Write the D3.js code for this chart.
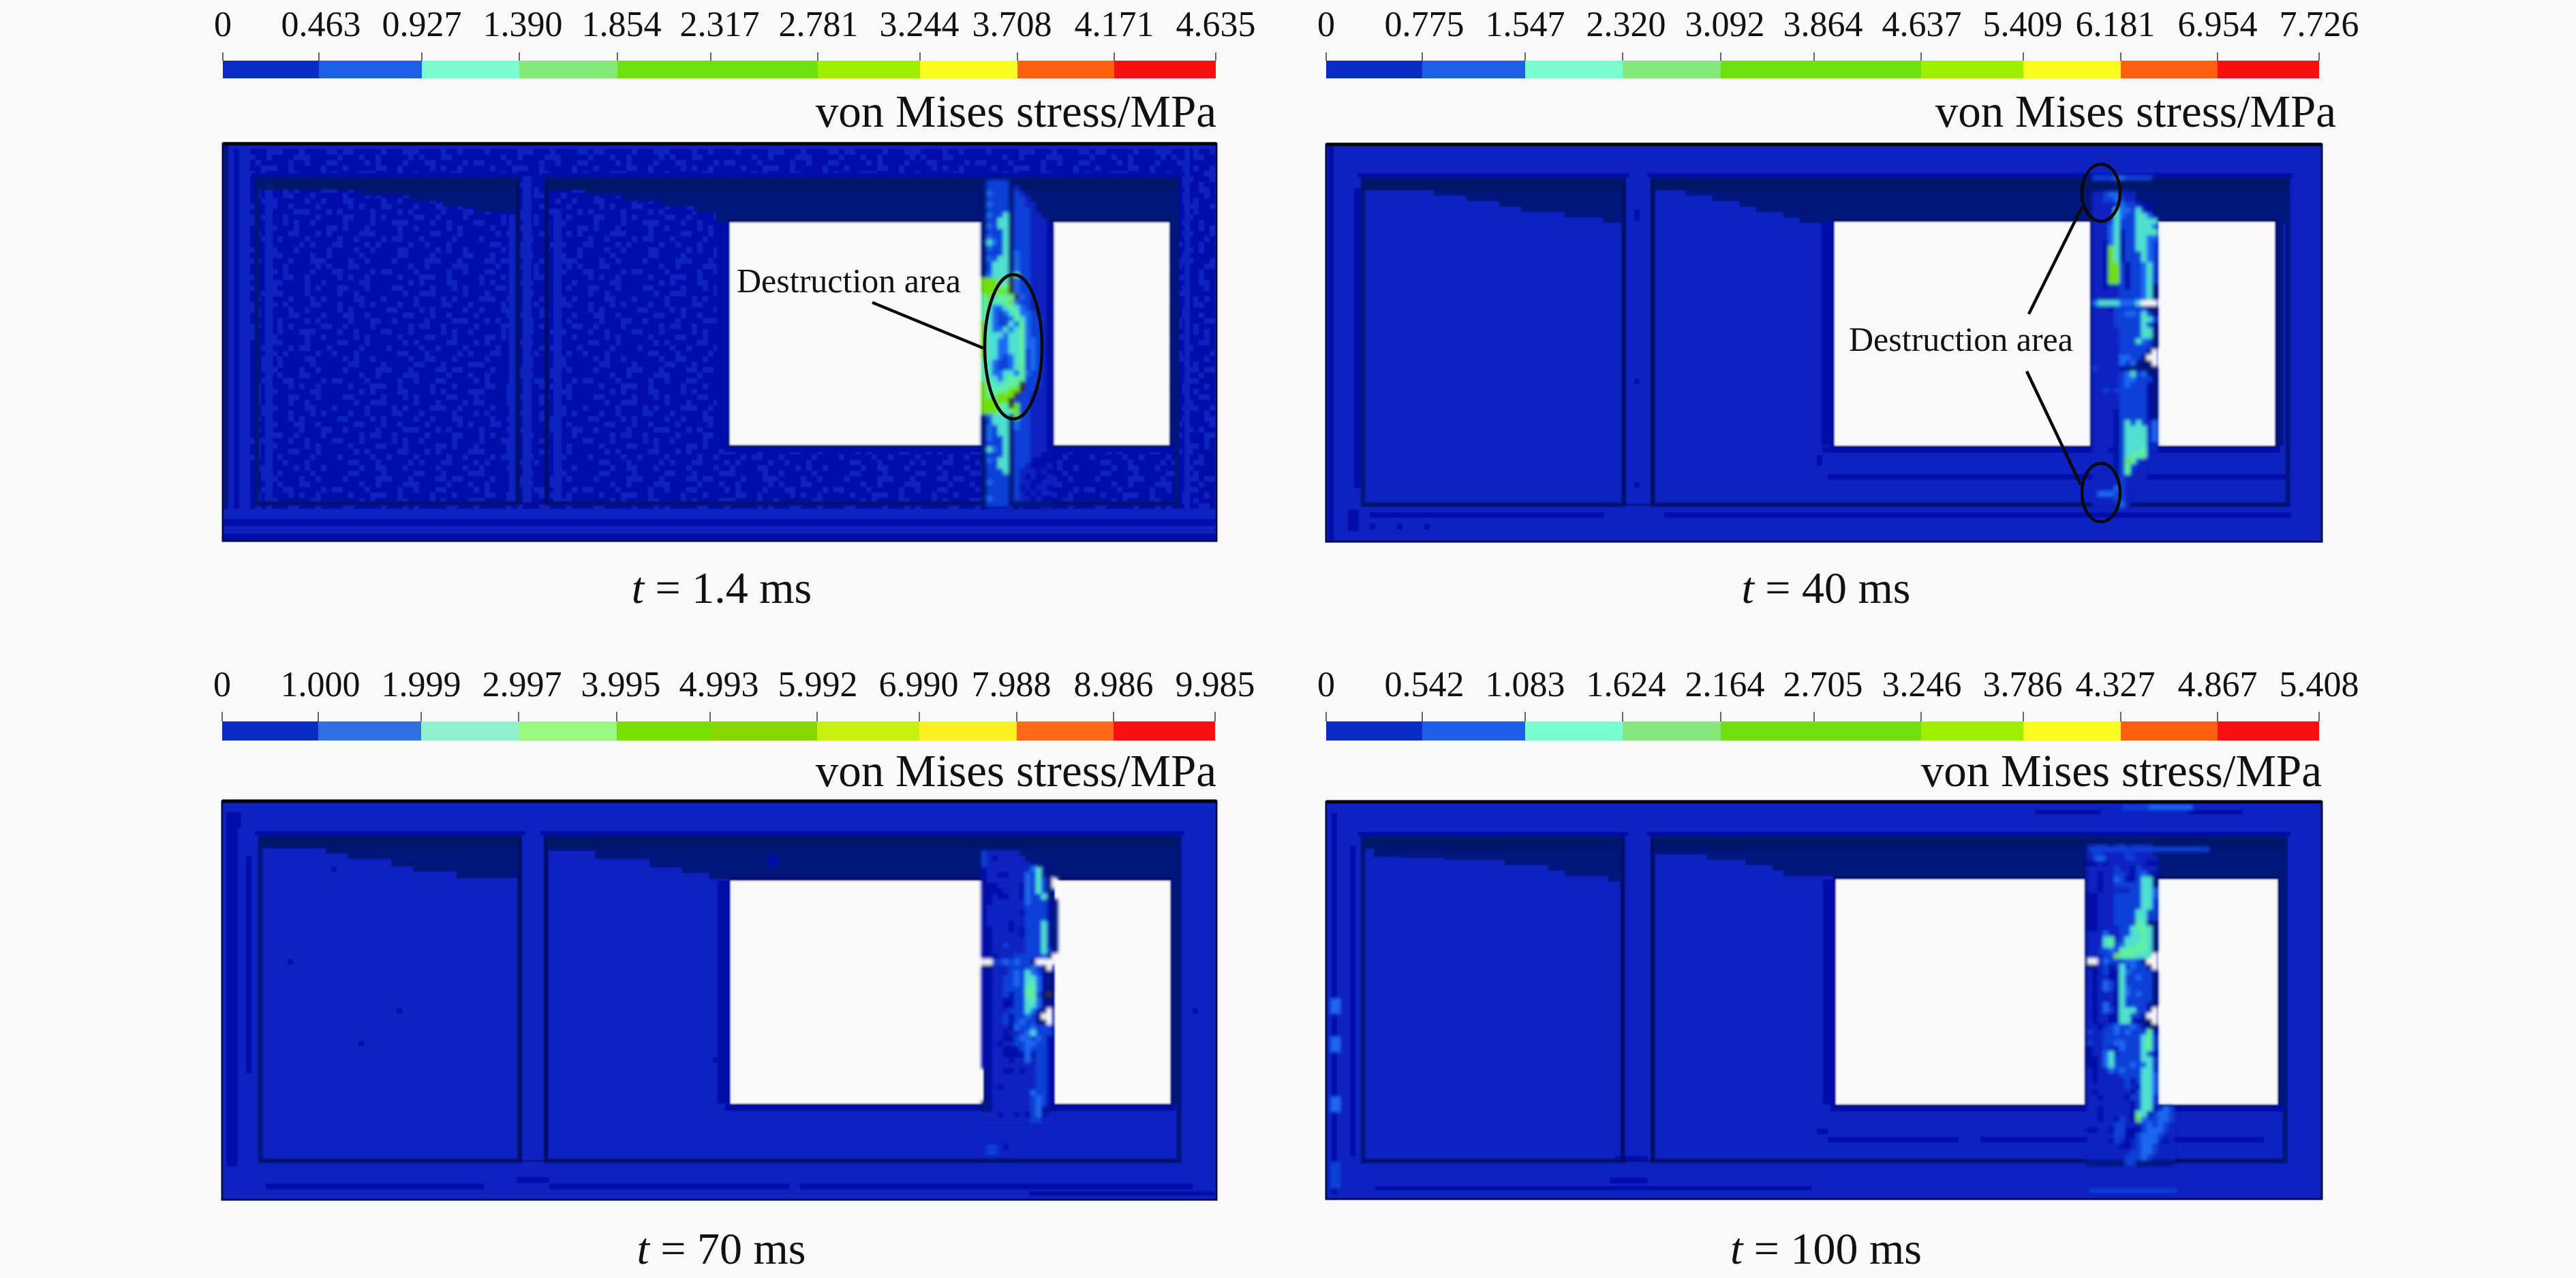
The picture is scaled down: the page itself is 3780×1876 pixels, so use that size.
<!DOCTYPE html>
<html><head><meta charset="utf-8">
<script src="https://cdn.jsdelivr.net/npm/d3@7"></script>
<style>html,body{margin:0;padding:0;background:#f9f9f9}svg{display:block}text{font-family:"Liberation Serif",serif;fill:#111}</style>
</head><body><svg id="c" width="3780" height="1876"></svg>
<script>
// ---------- colour-bar data ----------
const ticksA = ["0","0.463","0.927","1.390","1.854","2.317","2.781","3.244","3.708","4.171","4.635"];
const ticksB = ["0","0.775","1.547","2.320","3.092","3.864","4.637","5.409","6.181","6.954","7.726"];
const ticksC = ["0","1.000","1.999","2.997","3.995","4.993","5.992","6.990","7.988","8.986","9.985"];
const ticksD = ["0","0.542","1.083","1.624","2.164","2.705","3.246","3.786","4.327","4.867","5.408"];
const barColorsVivid = ["#0a2cc4","#1f5fe8","#78fcd0","#84e87c","#70e010","#70e010","#a0ee00","#fcfc20","#ff6010","#f81010"];
const barColorsSoft  = ["#0a2cc4","#3070e0","#90f0d0","#98f880","#78e000","#88d800","#c8f010","#fcf020","#ff6a18","#f81010"];
const captions = ["1.4 ms","40 ms","70 ms","100 ms"];
const unitLabel = "von Mises stress/MPa";
const calloutLabel = "Destruction area";

// ---------- stress levels of the contour plot ----------
const levelColor = {n:"#00137a",d:"#0008a8",b:"#1020c0",m:"#0a40d8",h:"#1a68f0",c:"#50e0d0",g:"#60f0a0",l:"#70e010",k:"#3a2a10",w:"#f9f9f9"};

// Building geometry, in element cells [x0,x1] / [y0,y1]
const roomsA = [[6.25,54.1],[6.75,54.6],[7,54.6],[6.75,54.4]];
const roomsB = [[59.4,175],[59.9,176.4],[59.4,175.5],[59.9,175.9]];
const roomsY = [[6.5,66],[6.4,66.1],[6.6,66.0],[6.6,65.9]];
const windowsA = [[93,139.3],[93.25,140.1],[93.25,139.6],[93.5,139.1]];
const windowsB = [[152.4,173.6],[152.6,174],[152.75,173.9],[152.6,174.5]];
const windowsY = [[14.4,55.25],[14.25,55.25],[14.6,55.5],[14.25,55.5]];

// Low-stress wedge at top of each room: [cell from room's left edge, depth in cells]
const wedgeA = [
 [[0,1.5],[14,2],[19,3],[28,4],[34,5],[40,6],[47,7],[48,7]],
 [[0,2],[13,3],[19,4],[25,5],[29,6],[37,7],[44,8],[48,8]],
 [[0,2],[12,3],[16,4],[24,5.4],[28,6.3],[36,7.5],[48,7.5]],
 [[0,2],[2,3.5],[7,3.7],[15,4],[26,5],[34,6],[37,7],[45,8],[48,8]]];
const wedgeB = [
 [[0,2],[7,3],[14,4],[21,5],[27,6],[31,8],[117,8]],
 [[0,2],[6,3],[11,4],[16,5],[19,6],[24,7],[27,8],[117,8]],
 [[0,2.5],[9,4],[19,5.6],[25,6.6],[30,7.7],[34,8],[117,8]],
 [[0,3],[10,4],[17,5],[22,6],[24,7],[33,7.8],[117,7.8]]];

// Read cell by cell from the pier between the windows. '-' means no change.
const pierOrigin = [[139.1,6.6],[140.5,2.6],[139.25,5],[139.5,7.75]];
const pierA = ["nmmmmn","nmmmmnb","nhmmmnmb","nmmmmnmmb","nhmmmnmmbb","nmmmmnmmmb","nhmmcnmmmbb","nmmccnmmmbbb","nhmccnmmmbbbd","nmmmcnmmmbbbd","nhmmcnmmmbbbd","nchmcnmmmbbbd","nhmmcnmmmbbbd","nmmmcnhmmbbbd","nhmccnhmmbbbd","nmcccnhmmbbbd","nmcccnhmmbbbd","nhcccnlmmbbbd","lllcckhmmbbbd","lllggkhmmbbbd","lllllkhmmbbbd","glcgggkhmbbbd","glcgglhmmbbbd","gchhcgchmbbbd","gchmhcghhmbbd","gchmmhgchmmbd","lchmmchghmmbd","lchhchcghmmbd","lccchccghmmbd","lcchhccghhmbd","lcchhccghhmbd","lcchhccgmhmbd","lcchmhcgmhmbd","gchmmhcgmhmbd","gchmmhcgmhmbd","gchhcchghmmbd","gcchcgggmmmbd","lgccgggkmmmbd","lggggllkmmbbd","lgglllkmmbbbd","lllllkmmmbbbd","lllggklmmbbbd","lllgcglmmbbbd","nhcccnlmmbbbd","nmcccnhmmbbbd","nhmccnhmmbbbd","nhmccnmmmbbbd","nhmmcnmmmbbbd","nmmmcnmmmbbbd","nchmcnmmmbbbd","nmmmcnmmmbbdd","nhmccnmmmdddd","nmmccnmmbdddb","nmmmcnmbbbdbd","nmmmmnmbdbddb","nhmmmnmbbddbb","nmmmmnmdbdbbd","nmmmmnmbdbdbb","nhmmmnmbbdbdd","nmmmmnnnnnnnn"];
const pierB = ["","","","mmmmhhmmmmm","","","bbmhhbbb","bbmmhmbb","bbbbbhmmbdd","bbbbchhmcbd","bbbbchmmcchd","bbbmcmmmcccc","bbbhcmmmccch","bbbhcdmmcccg","bbbhcdmmcchh","bbdhcdmmcchm","bbdlcdmmcchm","bbdlcdmmmchm","bbdlcdmmmchm","bbdllmdmmhcm","bbdllmdmmhcm","bbdllmdmmhcm","bbdllmdmmhcm","bbdbbmdmmhcn","bbbbbmmmmhcn","bbbbbmmmmhcnw","hcccchhhcwwww","bbbdmmmmmmnnn","bbbbmmhhmcmn","bbbbmmmmmccm","bbbbmmmmmcmn","bbbbbmmmmccn","bbbbbmmmmccn","bbbbbmmmchmn","bbbbbmmmmmmn","bbbbbmmmmmnww","bbbbbhhmmnwww","bbbbbhmhnnnww","mbbbbdnnnnnn","bbbbbmhcmhnn","bbbbbmhhmmmn","bbbbbmhmmmdn","bbmbmmmmmmdn","bbbbbmmmmmdn","bbbbbmmmmmdn","bbbbbmmmmmdn","bbbbdmmmmmdn","bbbbdmmmmmdn","bbbbdmcmcmbh","bbbbdmccccbh","bbbbdmccccbh","bbbbdmccccbh","bbbbdmccccbb","bbbddmcccgbb","bbbbdmcgggb","bbbbdmlgmb","bbbbdmgmbb","bbbbdmgbbb","bbbbbmbbbb","bbbbbmbbb","bbbbhmbb","bhhhmmb","bbbbmmb","bbbbbhb"];
const pierC = ["","","","","mbbbbbb","mbdbbbbb","mbbbbbbbbd","dbbbbbbbbhcd","dbbddbbbhmcnn","dbbbbbbbhmcmnw","dddbbbbdhmcmnw","ddddbbbdhmcmn","ddbddbbdhmmcn","ddbbbbbbhmmmdn","dbbbbbbbmmmmdn","dbbbbbbdmmmmdn","dbbbbbbbmmmmdn","dbbbbdbbmmmcdn","ddbbbdbdmmmcdn","ddbbbbbdmmmcdn","ddbbbbbbmmmcdn","ddbbmbbbmmmcdn","ddbbbbbbmmmcmn","dddbbbmmmmmhnw","wwmmhmhmmnwwww","nnbbbmmmmhmnw","ddbbbmhmchmdn","ddbbmmhmcchdn","ddbbmmhmcghdn","ddbbmmmmgghdn","ddbbmdmmggmnk","ddbbddmmcghn","ddbbddmmcchdn","ddbbbmmmchdnw","ddbbmdmmhmnww","ddbbmdmhmmnnw","ddbbbdhmmhmmm","ddbbdbbmhcmmm","ddbbddmhhmhmd","ddbdbbmmhhmmd","ddbbdddmhmmmd","ddbbddddhdmmd","ddbbbdbbhbmmd","ddbbbbbbbbmmd","-dbbddbdbbmmd","-dbbbbbbbbmmd","-dbbbbbbbbmmd","-dbdbbbbbbmmd","-dbbbbbbbhmmd","-dbbbbbbbmhmd","nnbbbbbbbmhmd","ndbbbbbbbmhdn","bbbdbbdbdmhdb","bbbbbbbbbmmbb","","","","","bmmbdb","bmmbb"];
const pierD = ["bbmbdbmdbbbb","bmmbbbbmbbbb","bbbbbbbmmbbbb","ddbdbbbbbbbdd","bbbbbmbbdmbbb","bbdbbmmbdmhbd","bbdbbhmddmccn","bbdbbmmmmmccn","bbdbbbbbmmcch","ddbbbmmmmmcch","ddbbbmmmmmccm","ddbbbmmmmmccm","ddbbbmmmmccmm","ddbbbmmmmccmm","ddbbbmmmmgcnn","ddbbbbmmcggcn","bbbhbbmmccgcn","bbbcgbmcccgcn","bbbcgmhccggcn","bbmmhmgggggcn","bbbmmlgggcccw","wwbhmmmhhmnww","nnbmdbcmhmmnw","bdbmddchmmmmn","bdbbddcmmhmmn","bdbhmdcmmmmmn","bdbhmdchmmmmn","bdbbbdchmhmmn","bdbbbdcmmmmmn","bdbhbdcmmmmdn","bdbhmdcccmmdw","bdbbddccmmdww","bdbbddccddnnw","bbdbmhmmhmdnn","mbbmmhmhmmmgdn","bbbmmmmmmmcgmn","mbbmmhhmmmcgmn","dbbmbbhmmmcgmn","dbbhcbmmmmcmdn","ddbhcmmmmmccmn","ddbhcmmmhmhcmn","bdbbhmhmmmccmn","bdbbbbmmmmcchn","bdbbbbbmdmcchn","bbbbbbbmbdcchn","bdbbbbbbdmcchn","bbdbbbbdmmccmd","bbbbbbbbdmccmd","bbdbbbbbdmccdbhm","bbdbbbbbdgcdmhhm","bbdbbdmbdlhmmhhm","bbbbbmmbbbmhmhmb","ddbbdmmdddmhhhmb","bbbbbmmddmhhhmbb","bbbbdmbdbmhhhbdb","bbbbbbddbmhhmbbb","bbbbbbbbmmhhmbbb","bbbbbbbmmmhmbbbb","nnnnnnnmmnnnnnnn"];
const pierRows = [pierA,pierB,pierC,pierD];

// Other small patches of one level: [x0, y0, width, height, level] in cells
const patchesA = [[0,0,1,73,"n"],[1,0,4.8,1,"b"],[1,1,1,72,"b"],[2,1,1,72,"d"],[3,1,2,72,"b"],[0,67,182,1.9,"b"],[0,68.9,182,1.2,"d"],[0,70.1,182,1.5,"b"],[0,71.6,182,1.2,"d"],[7.7,7,1.5,59,"b"],[52.5,13,1.5,53,"b"],[55,6,1.6,60,"b"],[60.6,13,1.5,53,"b"],[176.4,1,1,66,"b"]];
const patchesB = [[0.4,0,1,73,"d"],[5.2,8,1,55,"d"],[4,67,2,4,"d"],[8,67.5,43,1,"d"],[62,67.5,115,1,"d"],[8,69.6,1,1,"d"],[13,69.6,1,1,"d"],[18,69.6,1,1,"d"],[91,55.5,2,1,"d"],[90,57,1,2,"d"],[92,60.5,84,1,"d"],[56.5,12,1,2,"d"],[56.5,43,1,1,"d"],[56.5,62,1,1,"d"]];
const patchesC = [[0.8,2,2,65,"d"],[2.4,2,1,3,"d"],[4.4,10,1,40,"d"],[8,70.2,40,1,"d"],[54,69,6,1,"d"],[60,70.2,44,1,"d"],[106,70.2,50,1,"d"],[156,70.2,22,1,"d"],[148,71.6,34,.8,"d"],[12,29,1,1,"d"],[32,38,1,1,"d"],[20,12,1,1,"d"],[25,44,1,1,"d"],[100,10,2,2,"d"],[90,47,1,1,"d"],[178,38,1,1,"d"]];
const patchesD = [[0.7,36,2,3,"h"],[0.7,43,2,3,"h"],[0.7,54,2,3,"h"],[0.7,66,2,5,"m"],[1,2,1,70,"d"],[4.4,8,1,57,"d"],[90,60,2,1,"d"],[92,61.5,24,1,"d"],[120,61.5,52,1,"d"],[9,70.5,80,.8,"d"],[140,8.2,22,1,"m"],[141,10,2,.8,"h"],[148,.5,11,1,"h"],[146,.5,5,1,"m"],[140,71,16,.8,"m"],[130,1.5,12,.8,"d"],[158,1.5,10,.8,"d"],[53,65,6,1,"d"],[52,69,7,1,"d"]];
const patches = [patchesA,patchesB,patchesC,patchesD];

// Speckle of two low-stress levels at t = 1.4 ms ('#' = darker cell)
const speckleRows = [
"###..####.#####..###.####...#####.##.#####.###",
"##.#####...###.####..#..#####.###...####.##.##",
"#####.##.####...#####.###.##.#####.#.###..####",
"..####.#####.##.###..#####.#.####.###..#####.#",
"###.###...##.#####.###.#####..##.#####.#.##.##",
"#####.#.####..####.#.####...####.##.######..##",
"##..#####.###.#.#####..###.#####.#.###..###.##",
"####.##...#####.###.####.#..####.#####.##.####",
".#####.####.#.####...##.#####.###.#.#####..###",
"###.##.####..###.#####.###.#.####..###.###.#.#",
"#..####.#.#####.##.###..#####.##.#####.#.#####",
"####..###.##.####.#####.#.###..####.###..##.##",
"##.#####.####...###.#.#####.####.#.#####.###..",
"#####.#..##.#####.####..###.#.#####..##.####.#",
"..###.#####.#.##.#####.####.###...####.##.####",
"###.####..###.#####..#.###.#####.##.#####.#.##",
"####.#.#####..###.#.#####...####.#####..###.##",
"#.#####.##.####.#####.##.####.#..###.#####.###",
"###..###.#####.#.###..####.#.#####.##.###.####",
"#####.##..###.#####.####.##.####..#####.#.##.#"];

// ---------- panel placement ----------
const panelBoxes = [[327,211,1785,794],[1946,212,3407,795],[326,1176,1785,1761],[1946,1177,3407,1760]];
const barRows = [[53,77,89,115,186,885],[53,77,89,115,186,885],[1022,1045,1059,1087,1154,1855],[1022,1045,1059,1087,1154,1855]];
const unitRight = [1785,3428,1785,3407];
const tickOffsets = [0,141,292,435,579,716,873,1023,1166,1308,1457];
const labelOffsets = [0,144,292,440,585,729,874,1022,1158,1308,1457];
const tickSets = [ticksA,ticksB,ticksC,ticksD];
const barSets = [barColorsVivid,barColorsVivid,barColorsSoft,barColorsVivid];

const svg = d3.select("#c");
svg.append("rect").attr("width",3780).attr("height",1876).attr("fill","#f9f9f9");
const defs=svg.append("defs");
defs.append("filter").attr("id","soft").attr("x",0).attr("y",0).attr("width",1).attr("height",1)
  .attr("filterUnits","objectBoundingBox").append("feGaussianBlur").attr("stdDeviation",.8);
defs.append("filter").attr("id","softer").attr("x","-5%").attr("y","-5%").attr("width","110%").attr("height","110%")
  .append("feGaussianBlur").attr("stdDeviation",2.4);

panelBoxes.forEach((box,p)=>{
  const [L,T,R,B]=box, g=svg.append("g");
  const x=d3.scaleLinear([0,(R-L)/8],[L,R]), y=d3.scaleLinear([0,(B-T)/8],[T,B]);
  const cell=(g2,c,r,w,h,col)=>g2.append("rect").attr("x",x(c)).attr("y",y(r)).attr("width",x(c+w)-x(c)).attr("height",y(r+h)-y(r)).attr("fill",col);
  const rowsN=Math.floor((B-T)/8), colsN=Math.floor((R-L)/8);

  // colour bar
  const [lb,t0,t1,b0,b1,unitY,capY]=[barRows[p][0],barRows[p][1],barRows[p][2],barRows[p][2],barRows[p][3],barRows[p][4],barRows[p][5]];
  const labels=tickSets[p], idx=d3.range(labels.length);
  const bx=d3.scaleLinear(idx,tickOffsets.map(d=>L+d)), lx=d3.scaleLinear(idx,labelOffsets.map(d=>L+d));
  g.append("g").selectAll("rect").data(barSets[p]).join("rect")
    .attr("x",(d,i)=>bx(i)).attr("width",(d,i)=>bx(i+1)-bx(i)).attr("y",b0).attr("height",b1-b0).attr("fill",d=>d);
  g.append("g").selectAll("line").data(idx).join("line")
    .attr("x1",i=>bx(i)).attr("x2",i=>bx(i)).attr("y1",t0).attr("y2",t1).attr("stroke","#333").attr("stroke-width",1.5);
  g.append("g").selectAll("text").data(labels).join("text")
    .attr("x",(d,i)=>lx(i)).attr("y",lb).attr("text-anchor","middle").attr("font-size",52).text(d=>d);
  g.append("text").attr("x",unitRight[p]).attr("y",unitY).attr("text-anchor","end").attr("font-size",67).text(unitLabel);
  const cap=g.append("text").attr("x",(L+R)/2+3).attr("y",capY).attr("text-anchor","middle").attr("font-size",66);
  cap.append("tspan").attr("font-style","italic").text("t");
  cap.append("tspan").text(" = "+captions[p]);

  // field
  const f=g.append("g").attr("filter","url(#soft)");
  cell(f,0,0,(R-L)/8,(B-T)/8,levelColor.b);

  if(p===0){
    const cells=[];
    d3.range(rowsN).forEach(r=>{
      const line=speckleRows[r%speckleRows.length];
      let run=-1;
      d3.range(colsN+1).forEach(c=>{
        const on=c<colsN && r>0 && line[(c+(r>=20?17:0)+(r>=40?9:0))%line.length]==="#";
        if(on&&run<0) run=c;
        if(!on&&run>=0){cells.push([run,r,c-run]);run=-1;}
      });
    });
    f.append("g").attr("shape-rendering","crispEdges").selectAll("rect").data(cells).join("rect")
      .attr("x",d=>x(d[0])).attr("y",d=>y(d[1])).attr("width",d=>x(d[0]+d[2])-x(d[0])).attr("height",d=>y(d[1]+1)-y(d[1])).attr("fill",levelColor.d);
  }

  const [ry0,ry1]=roomsY[p];
  // wedges
  const wedge=(rm,data)=>{
    const a=d3.area().curve(d3.curveStepAfter).x(d=>x(rm[0]+d[0])).y0(y(ry0)).y1(d=>y(ry0+d[1]));
    const pts=data.filter(d=>d[0]<=rm[1]-rm[0]).concat([[rm[1]-rm[0],data[data.length-1][1]]]);
    f.append("path").attr("d",a(pts)).attr("fill",levelColor.n);
  };
  wedge(roomsA[p],wedgeA[p]); wedge(roomsB[p],wedgeB[p]);

  patches[p].filter(d=>!"mh".includes(d[4])).forEach(d=>cell(f,d[0],d[1],d[2],d[3],levelColor[d[4]]));

  // walls of rooms
  [roomsA[p],roomsB[p]].forEach(rm=>{
    f.append("rect").attr("x",x(rm[0])).attr("y",y(ry0)).attr("width",x(rm[1])-x(rm[0])).attr("height",y(ry1)-y(ry0))
      .attr("fill","none").attr("stroke",levelColor.n).attr("stroke-width",7);
    cell(f,rm[0]-1,ry0-1.1,rm[1]-rm[0]+2,.7,levelColor.d);
  });
  [roomsA[p],roomsB[p]].forEach(rm=>f.append("rect").attr("x",x(rm[0])).attr("y",y(ry0)).attr("width",x(rm[1])-x(rm[0])).attr("height",y(ry0+2)-y(ry0)).attr("fill","#001c64").attr("opacity",.8));
  // dark slit lines
  [roomsA[p][1],roomsB[p][0]].forEach(c=>{
    f.append("line").attr("x1",x(c)).attr("x2",x(c)).attr("y1",y(ry0)).attr("y2",y(ry1)).attr("stroke","#000c58").attr("stroke-width",3);
  });
  f.append("line").attr("x1",x(roomsA[p][0])).attr("x2",x(roomsB[p][1])).attr("y1",y(ry1)).attr("y2",y(ry1)).attr("stroke","#00105e").attr("stroke-width",2);

  // band of darker cells next to windows and windows themselves
  const [wy0,wy1]=windowsY[p];
  [windowsA[p],windowsB[p]].forEach(w=>{
    cell(f,w[0]-2.4,wy0,2.4,wy1-wy0,levelColor.d);
    cell(f,w[1],wy0,1.6,wy1-wy0,levelColor.n);
    cell(f,w[0]-1,wy1,w[1]-w[0]+2,1.3,levelColor.d);
  });

  // pier raster
  const [ox,oy]=pierOrigin[p], pr=[];
  pierRows[p].forEach((line,r)=>{
    line.split("").forEach((ch,c)=>{ if(ch!=="-") pr.push({c:ox+c,r:oy+r,ch}); });
  });

  [windowsA[p],windowsB[p]].forEach(w=>{
    f.append("rect").attr("x",x(w[0])).attr("y",y(wy0)).attr("width",x(w[1])-x(w[0])).attr("height",y(wy1)-y(wy0)).attr("fill",levelColor.w);
    f.append("line").attr("x1",x(w[0])-2).attr("x2",x(w[1])+2).attr("y1",y(wy0)-2).attr("y2",y(wy0)-2).attr("stroke","#000a60").attr("stroke-width",4);
    f.append("line").attr("x1",x(w[0])-2).attr("x2",x(w[1])+2).attr("y1",y(wy1)+1).attr("y2",y(wy1)+1).attr("stroke","#000a60").attr("stroke-width",2);
  });

  // pier cells: skip cells beyond window B's edge; softened like an interpolated contour
  const hot=g.append("g").attr("filter","url(#softer)");
  hot.append("g").selectAll("rect").data(pr.filter(d=>!(d.c>=windowsB[p][0]-.2 && d.r>wy0-.5 && d.r<wy1-.5))).join("rect")
    .attr("x",d=>x(d.c)).attr("y",d=>y(d.r)).attr("width",d=>x(d.c+1)-x(d.c)+.5).attr("height",d=>y(d.r+1)-y(d.r)+.5)
    .attr("fill",d=>levelColor[d.ch]);
  patches[p].filter(d=>"mh".includes(d[4])).forEach(d=>cell(hot,d[0],d[1],d[2],d[3],levelColor[d[4]]));

  // frame
  g.append("rect").attr("x",L).attr("y",T).attr("width",R-L).attr("height",B-T).attr("fill","none").attr("stroke","#000a50").attr("stroke-width",3);
  g.append("line").attr("x1",L).attr("x2",R).attr("y1",T).attr("y2",T).attr("stroke","#000").attr("stroke-width",5);
});

// ---------- callouts (first two panels) ----------
const ink=svg.append("g").attr("fill","none").attr("stroke","#0a0a0a").attr("stroke-width",4.5);
const calloutEllipses=[[1487,509,42,106],[3083,283,28,42],[3083,723,28,43]];
const calloutLeaders=[[[1280,444],[1443,511]],[[2977,461],[3055,304]],[[2974,545],[3053,711]]];
ink.selectAll("ellipse").data(calloutEllipses).join("ellipse").attr("cx",d=>d[0]).attr("cy",d=>d[1]).attr("rx",d=>d[2]).attr("ry",d=>d[3]);
ink.selectAll("path").data(calloutLeaders).join("path").attr("d",d3.line());
[[1081,429],[2713,515]].forEach(d=>svg.append("text").attr("x",d[0]).attr("y",d[1]).attr("font-size",50).text(calloutLabel));
</script></body></html>
